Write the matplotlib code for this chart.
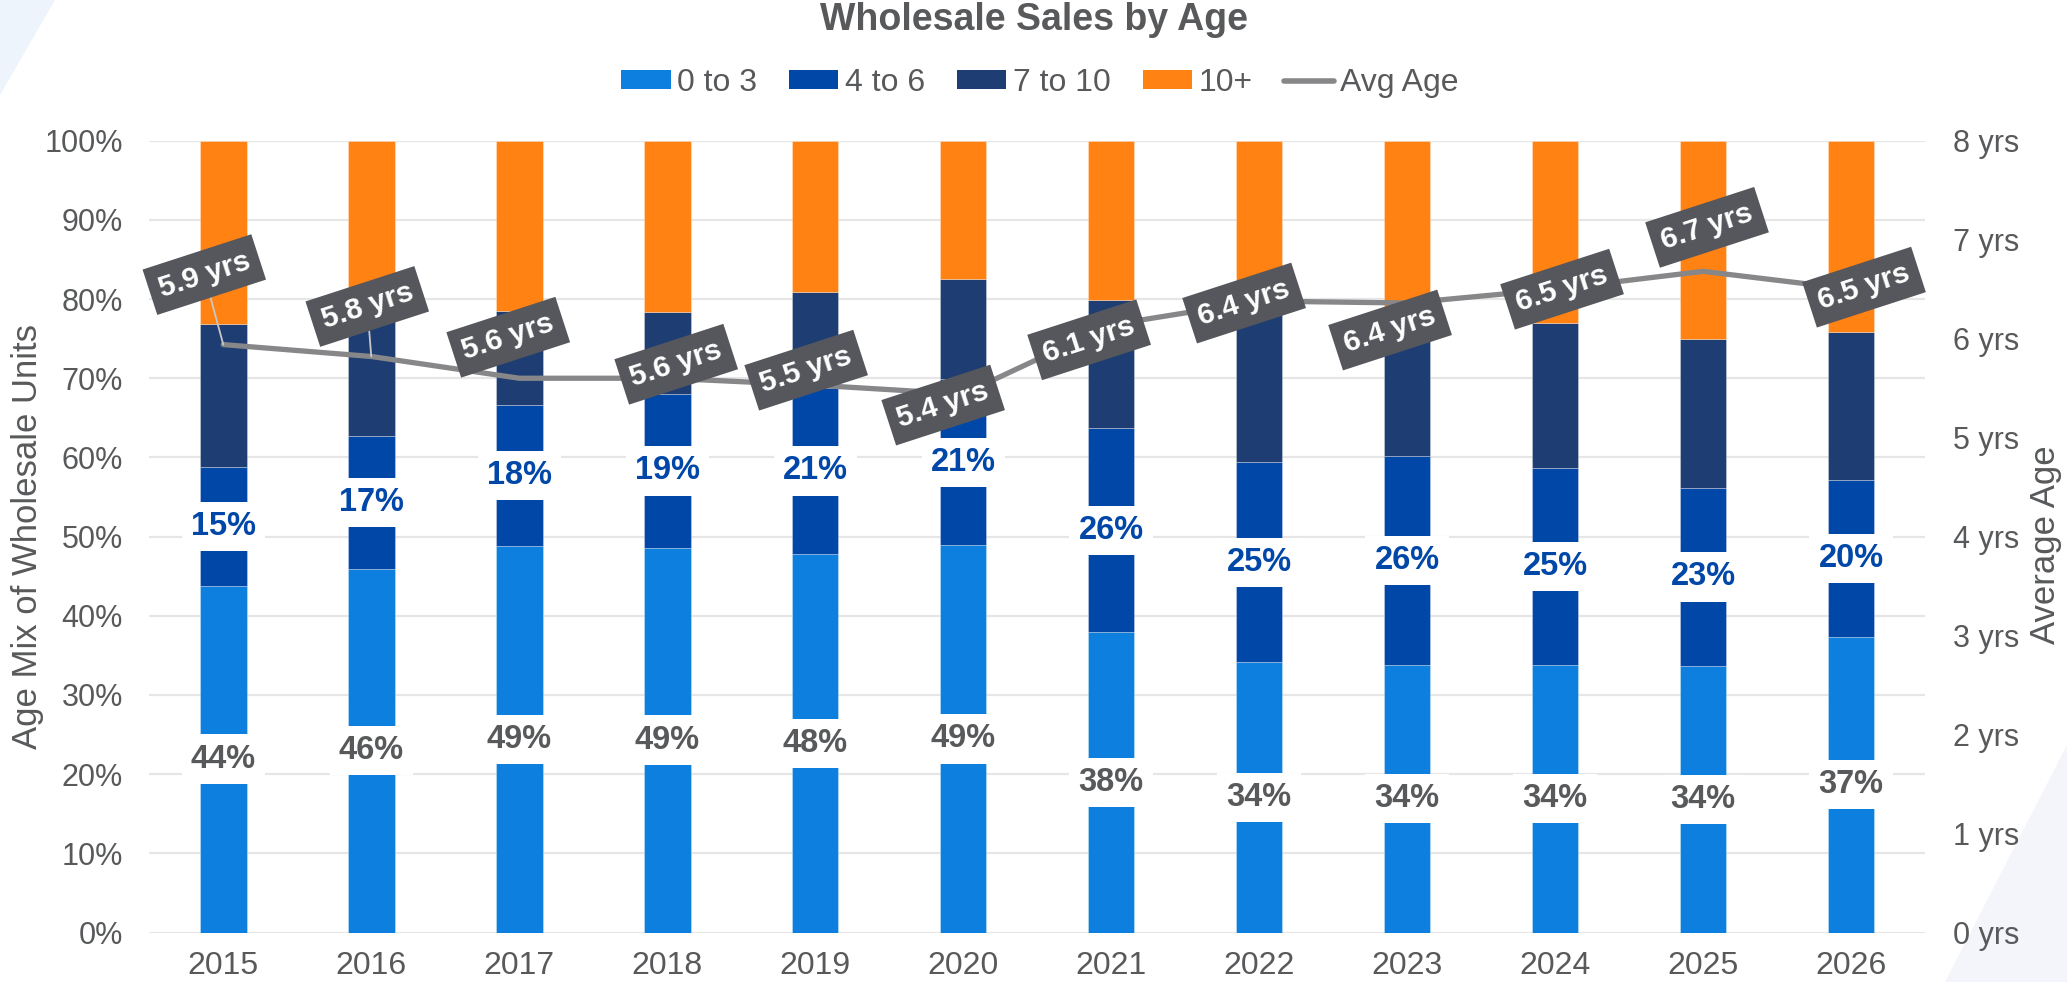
import matplotlib
matplotlib.use("Agg")
import matplotlib.pyplot as plt
from matplotlib.patches import Polygon
from matplotlib.lines import Line2D
from matplotlib.patches import Patch
import numpy as np

plt.rcParams['font.family'] = ['Liberation Sans', 'DejaVu Sans']

years = ["2015", "2016", "2017", "2018", "2019", "2020",
         "2021", "2022", "2023", "2024", "2025", "2026"]
age_0_3 = [43.8, 45.9, 48.8, 48.6, 47.8, 48.9, 37.9, 34.1, 33.8, 33.8, 33.6, 37.3]
age_4_6 = [15.0, 16.8, 17.8, 19.4, 21.0, 21.0, 25.8, 25.3, 26.4, 24.9, 22.6, 19.9]
age_7_10 = [18.1, 14.7, 11.9, 10.4, 12.1, 12.6, 16.2, 19.6, 18.4, 18.3, 18.7, 18.7]
age_10p = [23.1, 22.6, 21.5, 21.6, 19.1, 17.5, 20.1, 21.0, 21.4, 23.0, 25.1, 24.1]
avg_age = [5.94, 5.82, 5.60, 5.60, 5.53, 5.44, 6.14, 6.38, 6.36, 6.50, 6.68, 6.50]

series_names = ["0 to 3", "4 to 6", "7 to 10", "10+"]
colors = ["#0D7FDE", "#0047A8", "#1E3D72", "#FF8213"]
line_color = "#87878A"
text_color = "#58595B"
label_box = "#55575C"

# label offsets for avg-age boxes (pixels, x right / y down)
lbl_off_px = [(-19, -70), (-4, -50), (-11, -41), (9, -14), (-9, -15), (-20, 11),
              (-22, 15), (-15, 2), (-17, 27), (7, 0), (4, -44), (13, -2)]
leader = [True, True] + [False] * 10

W, H = 2067, 982
fig = plt.figure(figsize=(W / 100, H / 100), dpi=100)
fig.patch.set_facecolor("white")

# background decorative shapes
fig.patches.append(Polygon([(0, 1), (55 / W, 1), (0, 1 - 95 / H)], closed=True,
                           transform=fig.transFigure, fc="#EEF4FB", ec="none", zorder=-5))
fig.patches.append(Polygon([(1945 / W, 0), (1, 0), (1, 1 - 745 / H)], closed=True,
                           transform=fig.transFigure, fc="#F4F5FA", ec="none", zorder=-5))

left, right, top, bottom = 149.3, 1925, 140.7, 932.5
ax = fig.add_axes([left / W, 1 - bottom / H, (right - left) / W, (bottom - top) / H])
ax.set_facecolor("none")

x = np.arange(len(years))
bw = 0.315
data = [age_0_3, age_4_6, age_7_10, age_10p]
base = np.zeros(len(years))
for vals, col, name in zip(data, colors, series_names):
    ax.bar(x, vals, bw, bottom=base, color=col, edgecolor=(1, 1, 1, 0.35),
           linewidth=0.6, zorder=2, label=name)
    base = base + np.array(vals)

ax.set_xlim(-0.5, len(years) - 0.5)
ax.set_ylim(0, 100)
ax.set_yticks(np.arange(0, 101, 10))
ax.set_yticklabels([f"{v}%" for v in range(0, 101, 10)])
ax.set_xticks(x)
ax.set_xticklabels(years)
ax.grid(axis="y", color="#E6E6E6", linewidth=1.6, zorder=0)
ax.set_axisbelow(True)
for s in ax.spines.values():
    s.set_visible(False)
ax.tick_params(axis="y", length=0, pad=19, labelsize=22, labelcolor=text_color)
ax.tick_params(axis="x", length=0, pad=13, labelsize=23, labelcolor=text_color)
ax.set_ylabel("Age Mix of Wholesale Units", fontsize=25, color=text_color)
ax.yaxis.set_label_coords((44 - left) / (right - left), 0.5)

# segment labels
for i in range(len(years)):
    v0 = age_0_3[i]
    ax.text(x[i], v0 / 2, f"{round(v0)}%", ha="center", va="center",
            fontsize=23.5, fontweight="bold", color=text_color, zorder=4,
            bbox=dict(boxstyle="square,pad=0.28", fc="white", ec="none"))
    v1 = age_4_6[i]
    ax.text(x[i], v0 + v1 / 2, f"{round(v1)}%", ha="center", va="center",
            fontsize=23.5, fontweight="bold", color="#0047A8", zorder=4,
            bbox=dict(boxstyle="square,pad=0.28", fc="white", ec="none"))

# secondary axis
ax2 = ax.twinx()
ax2.set_ylim(0, 8)
ax2.set_yticks(range(0, 9))
ax2.set_yticklabels([f"{v} yrs" for v in range(0, 9)])
for s in ax2.spines.values():
    s.set_visible(False)
ax2.tick_params(axis="y", length=0, pad=20, labelsize=22, labelcolor=text_color)
ax2.plot(x, avg_age, color=line_color, linewidth=3.8, solid_capstyle="round",
         solid_joinstyle="round", zorder=3)
ax2.set_ylabel("Average Age", fontsize=25, color=text_color, rotation=90)
ax2.yaxis.set_label_coords((2029 - left) / (right - left), 0.49)

for i, v in enumerate(avg_age):
    dx, dy = lbl_off_px[i]
    kw = {}
    if leader[i]:
        kw["arrowprops"] = dict(arrowstyle="-", color="#C8C8C8", lw=1.3,
                                shrinkA=0, shrinkB=0)
    ax2.annotate(f"{v:.1f} yrs", xy=(x[i], v), xytext=(dx * 0.72, -dy * 0.72),
                 textcoords="offset points", ha="center", va="center",
                 rotation=18, rotation_mode="anchor",
                 fontsize=21.5, fontweight="bold", color="white", zorder=5,
                 bbox=dict(boxstyle="square,pad=0.33", fc=label_box, ec="none"),
                 **kw)

# title and legend
fig.text(0.5, 1 - 20 / H, "Wholesale Sales by Age", ha="center", va="center",
         fontsize=27, fontweight="bold", color=text_color)
handles = [Patch(facecolor=c, edgecolor="none") for c in colors]
handles.append(Line2D([0], [0], color=line_color, linewidth=4, solid_capstyle="round"))
leg = fig.legend(handles, series_names + ["Avg Age"], loc="center",
                 bbox_to_anchor=(1040 / W, 1 - 83 / H), ncol=5, frameon=False,
                 fontsize=23, handlelength=1.55, handleheight=0.55,
                 handletextpad=0.2, columnspacing=1.0, labelcolor=text_color)

fig.savefig("out.png", dpi=100)
